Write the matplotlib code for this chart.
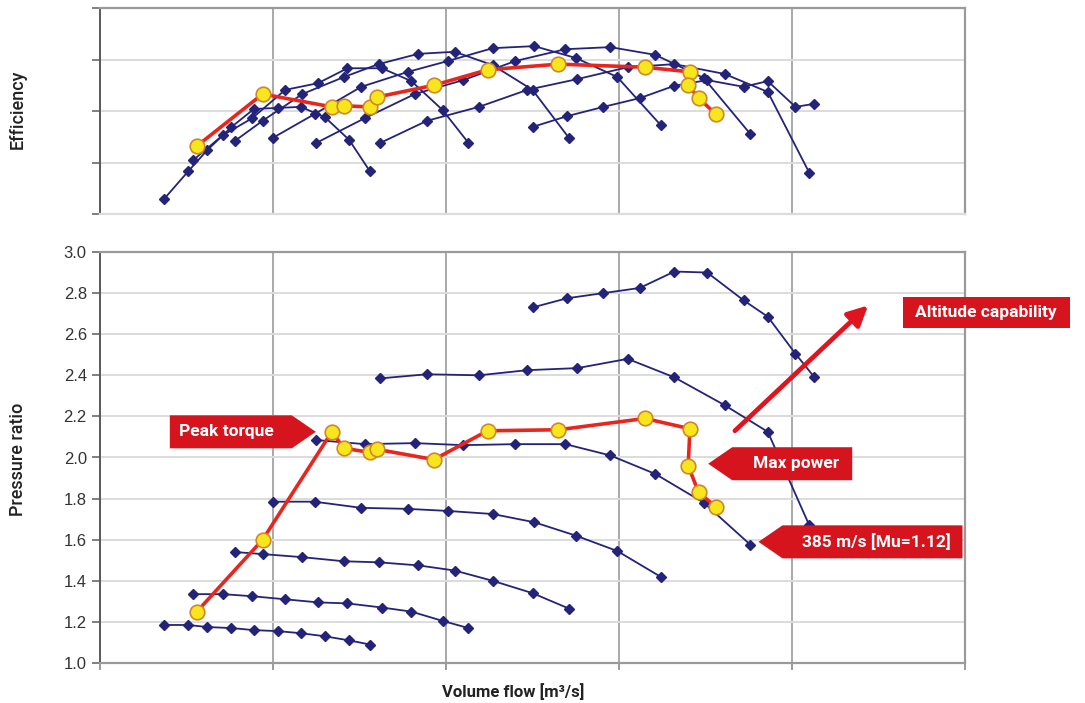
import matplotlib.pyplot as plt
from matplotlib.patches import Polygon, Rectangle
from matplotlib.transforms import IdentityTransform

# speed lines: volume flow (arbitrary units), pressure ratio, efficiency
flow_1 = [0.37, 0.51, 0.62, 0.76, 0.89, 1.03, 1.16, 1.30, 1.44, 1.56]
pr_1 = [1.185, 1.185, 1.175, 1.17, 1.16, 1.155, 1.145, 1.13, 1.11, 1.09]
eff_1 = [0.29, 0.83, 1.24, 1.69, 2.04, 2.06, 2.08, 1.88, 1.44, 0.83]

flow_2 = [0.54, 0.71, 0.88, 1.07, 1.26, 1.43, 1.63, 1.80, 1.98, 2.13]
pr_2 = [1.335, 1.335, 1.325, 1.31, 1.295, 1.29, 1.27, 1.25, 1.205, 1.17]
eff_2 = [1.05, 1.53, 1.86, 2.41, 2.54, 2.83, 2.83, 2.58, 2.02, 1.38]

flow_3 = [0.78, 0.94, 1.17, 1.41, 1.61, 1.84, 2.05, 2.27, 2.50, 2.71]
pr_3 = [1.54, 1.53, 1.515, 1.495, 1.49, 1.475, 1.45, 1.40, 1.34, 1.265]
eff_3 = [1.42, 1.81, 2.33, 2.66, 2.91, 3.11, 3.15, 2.89, 2.41, 1.48]

flow_4 = [1.00, 1.24, 1.51, 1.78, 2.01, 2.27, 2.51, 2.75, 2.99, 3.24]
pr_4 = [1.785, 1.785, 1.755, 1.75, 1.74, 1.725, 1.685, 1.62, 1.545, 1.42]
eff_4 = [1.48, 1.94, 2.47, 2.76, 2.97, 3.22, 3.26, 3.03, 2.66, 1.73]

flow_5 = [1.25, 1.53, 1.82, 2.10, 2.40, 2.69, 2.95, 3.21, 3.49, 3.76]
pr_5 = [2.085, 2.065, 2.07, 2.06, 2.065, 2.065, 2.01, 1.92, 1.78, 1.575]
eff_5 = [1.38, 1.86, 2.33, 2.60, 2.97, 3.20, 3.24, 3.09, 2.64, 1.55]

flow_6 = [1.62, 1.89, 2.19, 2.47, 2.76, 3.05, 3.32, 3.61, 3.86, 4.10]
pr_6 = [2.385, 2.405, 2.40, 2.425, 2.435, 2.48, 2.39, 2.255, 2.125, 1.67]
eff_6 = [1.38, 1.81, 2.08, 2.41, 2.62, 2.85, 2.91, 2.72, 2.37, 0.80]

flow_7 = [2.50, 2.70, 2.91, 3.12, 3.32, 3.51, 3.72, 3.86, 4.02, 4.13]
pr_7 = [2.73, 2.775, 2.80, 2.825, 2.905, 2.90, 2.765, 2.685, 2.505, 2.39]
eff_7 = [1.69, 1.90, 2.08, 2.25, 2.49, 2.60, 2.47, 2.58, 2.08, 2.14]

# engine operating line
op_flow = [0.56, 0.94, 1.34, 1.41, 1.56, 1.60, 1.93, 2.24, 2.65, 3.15,
           3.41, 3.40, 3.46, 3.56]
op_pr = [1.25, 1.60, 2.125, 2.045, 2.025, 2.04, 1.99, 2.13, 2.135, 2.19,
         2.14, 1.96, 1.83, 1.76]
op_eff = [1.32, 2.33, 2.08, 2.10, 2.08, 2.27, 2.50, 2.80, 2.91, 2.85,
          2.76, 2.50, 2.25, 1.94]

speed_lines = [(flow_1, pr_1, eff_1), (flow_2, pr_2, eff_2),
               (flow_3, pr_3, eff_3), (flow_4, pr_4, eff_4),
               (flow_5, pr_5, eff_5), (flow_6, pr_6, eff_6),
               (flow_7, pr_7, eff_7)]

pr_ticks = [1.0, 1.2, 1.4, 1.6, 1.8, 2.0, 2.2, 2.4, 2.6, 2.8, 3.0]

NAVY = '#23237a'
RED = '#e8261e'
BOX = '#d5141e'
W, H = 1085, 703

fig = plt.figure(figsize=(W / 100, H / 100), dpi=100)
ax_eff = fig.add_axes([100 / W, 1 - 214 / H, 865 / W, 206 / H])
ax_pr = fig.add_axes([100 / W, 1 - 663 / H, 865 / W, 411 / H])


def style(ax):
    ax.set_xlim(0, 5)
    ax.set_xticks([0, 1, 2, 3, 4, 5])
    ax.set_xticklabels([])
    ax.grid(axis='x', color='#a9a9a9', lw=1.4)
    ax.grid(axis='y', color='#dcdcdc', lw=1.4)
    ax.set_axisbelow(True)
    for s in ['top', 'right', 'bottom']:
        ax.spines[s].set_color('#9a9a9a')
        ax.spines[s].set_linewidth(1.6)
    ax.spines['left'].set_color('#5a5a5a')
    ax.spines['left'].set_linewidth(1.4)
    ax.tick_params(axis='y', length=6, width=1.2, color='#6a6a6a',
                   labelsize=12, labelcolor='#333333')
    ax.tick_params(axis='x', length=5, width=1.2, color='#8a8a8a')


style(ax_eff)
style(ax_pr)

ax_eff.set_ylim(0, 4)
ax_eff.set_yticks([0, 1, 2, 3, 4])
ax_eff.set_yticklabels([])
ax_eff.spines['bottom'].set_color('#dcdcdc')
ax_eff.tick_params(axis='x', length=0)

ax_pr.set_ylim(1.0, 3.0)
ax_pr.set_yticks(pr_ticks)
ax_pr.set_yticklabels([f'{t:.1f}' for t in pr_ticks], family='Liberation Sans')

for flow, pr, eff in speed_lines:
    ax_pr.plot(flow, pr, color=NAVY, lw=1.3, marker='D', ms=5.5, zorder=3)
    ax_eff.plot(flow, eff, color=NAVY, lw=1.3, marker='D', ms=5.5, zorder=3)

for ax, vals in [(ax_pr, op_pr), (ax_eff, op_eff)]:
    ax.plot(op_flow, vals, color=RED, lw=2.6, marker='o', ms=10.5,
            mfc='#f7e61c', mec='#d0862a', mew=1.2, zorder=4)

label_kw = dict(rotation=90, ha='center', va='center', fontsize=13,
                family='Roboto', fontweight='medium', color='#222222')
fig.text(18 / W, 1 - 109 / H, 'Efficiency', **label_kw)
fig.text(18 / W, 1 - 459 / H, 'Pressure ratio', **label_kw)
fig.text(513 / W, 1 - 692 / H, 'Volume flow [m³/s]', ha='center',
         va='center', fontsize=12, family='Roboto', fontweight='bold',
         color='#222222')


def callout(x, y, text, side, gap, dy=0, head=24, length=145, h=16.5):
    # red flag pointing at a data point, drawn in pixel space
    px, py = ax_pr.transData.transform((x, y))
    py += dy
    d = 1 if side == 'right' else -1
    tip = px + d * gap
    base = tip + d * head
    end = tip + d * length
    verts = [(tip, py), (base, py + h), (end, py + h), (end, py - h),
             (base, py - h)]
    fig.add_artist(Polygon(verts, closed=True, fc=BOX, ec='none',
                           transform=IdentityTransform(), zorder=10))
    fig.text((base + end) / 2 + d * 4, py, text, ha='center', va='center',
             color='white', fontsize=12.5, family='Roboto', fontweight='bold',
             transform=IdentityTransform(), zorder=11)


callout(op_flow[2], op_pr[2], 'Peak torque', 'left', 16, length=146)
callout(op_flow[11], op_pr[11], 'Max power', 'right', 20, dy=2, length=144)
callout(flow_5[-1], pr_5[-1], '385 m/s [Mu=1.12]', 'right', 8, dy=3,
        length=204)

# altitude capability arrow and label
ax_pr.annotate('', xy=(4.44, 2.74), xytext=(3.67, 2.13),
               arrowprops=dict(arrowstyle='-|>', color='#e0141e', lw=3.4,
                               mutation_scale=30, shrinkA=0, shrinkB=0),
               annotation_clip=False, zorder=6)
fig.add_artist(Rectangle((903 / W, 1 - 328 / H), 167 / W, 31 / H, fc=BOX,
                         ec='none', transform=fig.transFigure, zorder=10))
fig.text(986 / W, 1 - 312 / H, 'Altitude capability', ha='center',
         va='center', color='white', fontsize=12.5, family='Roboto',
         fontweight='bold', zorder=11)

fig.savefig('out.png', dpi=100)
